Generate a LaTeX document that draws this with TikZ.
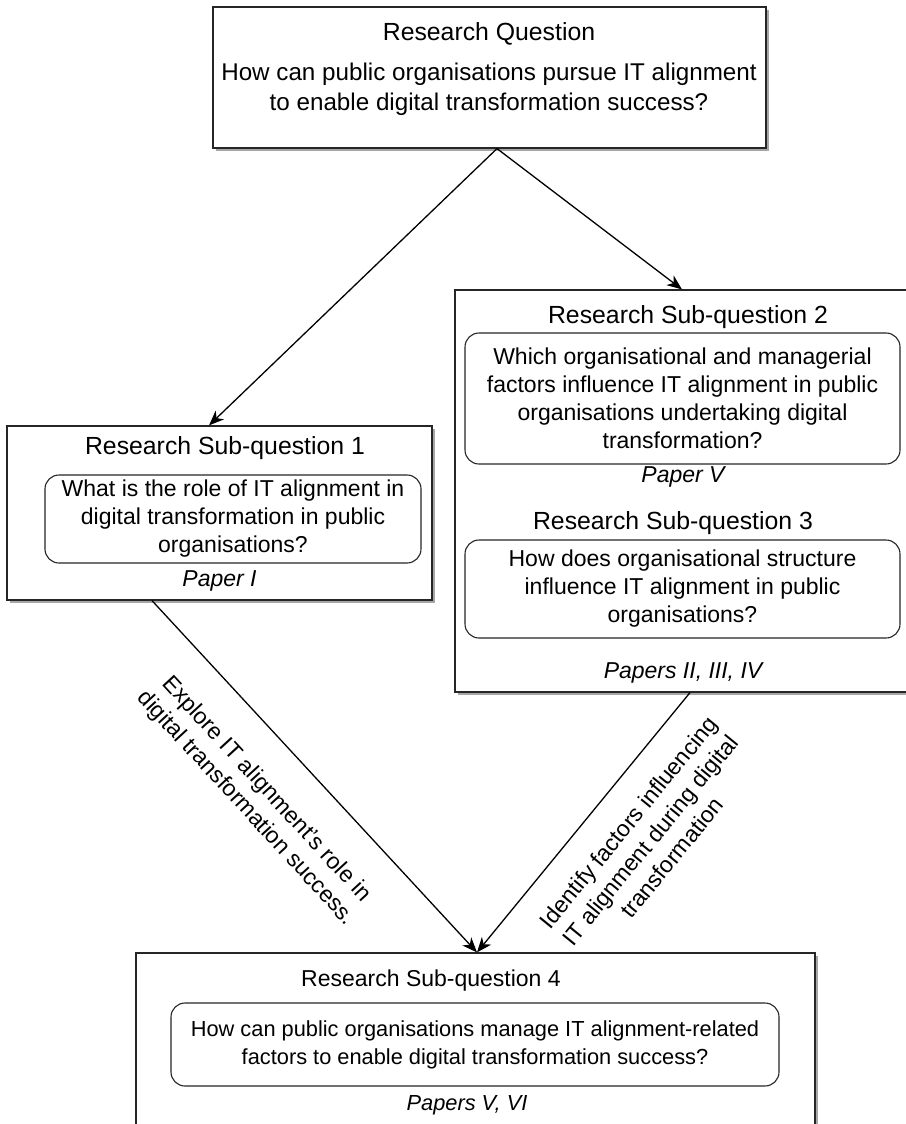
\documentclass[tikz,border=0pt]{standalone}
\usepackage{fontspec}
\setmainfont{Liberation Sans}
\usetikzlibrary{arrows.meta,shadows,calc}
\begin{document}
\begin{tikzpicture}[x=1pt,y=-1pt,
  outerbox/.style={draw=black!85, line width=1.2pt, fill=white, inner sep=0pt,
    drop shadow={shadow xshift=3pt,shadow yshift=-3pt,opacity=0.35,fill=black}},
  qbox/.style={draw=black!85, line width=1.1pt, rounded corners=14pt, inner sep=0pt},
  body/.style={font=\fontsize{23}{28}\selectfont, align=center, inner sep=0pt},
  bigbody/.style={font=\fontsize{24.2}{29.5}\selectfont, align=center, inner sep=0pt},
  smallbody/.style={font=\fontsize{21.8}{28}\selectfont, align=center, inner sep=0pt},
  head/.style={font=\fontsize{24.8}{30}\selectfont, inner sep=0pt},
  smallhead/.style={font=\fontsize{23}{28}\selectfont, inner sep=0pt},
  paper/.style={font=\fontsize{23}{28}\selectfont\itshape, inner sep=0pt},
  smallpaper/.style={font=\fontsize{21.8}{28}\selectfont\itshape, inner sep=0pt},
  link/.style={line width=1.3pt, -{Stealth[length=15pt,width=12pt,inset=4.5pt]}},
  lbl/.style={font=\fontsize{23}{28}\selectfont, align=center, inner sep=0pt}]

\useasboundingbox (0,0) rectangle (905,1124);

% main research question
\node[outerbox, minimum width=553pt, minimum height=141pt] (rq) at (489.5,77.5) {};
\node[head] (rqt) at (489,34) {Research Question};
\node[bigbody] (rqb) at (489,89) {How can public organisations pursue IT alignment\\to enable digital transformation success?};

% sub-question 1
\node[outerbox, minimum width=425pt, minimum height=174pt] (sq1) at (219.5,513) {};
\node[head] (sq1t) at (225,448) {Research Sub-question 1};
\node[qbox, minimum width=376pt, minimum height=88pt] (sq1q) at (233,519) {};
\node[body] at (sq1q) {What is the role of IT alignment in\\digital transformation in public\\organisations?};
\node[paper] (sq1p) at (219.5,581) {Paper I};

% sub-questions 2 and 3
\node[outerbox, minimum width=454pt, minimum height=402pt] (sq23) at (682,491) {};
\node[head] (sq2t) at (688,317) {Research Sub-question 2};
\node[qbox, minimum width=435pt, minimum height=131pt] (sq2q) at (682.5,398.5) {};
\node[body] at (sq2q) {Which organisational and managerial\\factors influence IT alignment in public\\organisations undertaking digital\\transformation?};
\node[paper] (sq2p) at (683,477) {Paper V};
\node[head] (sq3t) at (673,523) {Research Sub-question 3};
\node[qbox, minimum width=435pt, minimum height=98pt] (sq3q) at (682.5,589) {};
\node[body] at (sq3q) {How does organisational structure\\influence IT alignment in public\\organisations?};
\node[paper] (sq3p) at (683,673) {Papers II, III, IV};

% sub-question 4
\node[outerbox, minimum width=679pt, minimum height=190pt] (sq4) at (475.5,1048) {};
\node[smallhead] (sq4t) at (431,981) {Research Sub-question 4};
\node[qbox, minimum width=608pt, minimum height=83pt] (sq4q) at (475,1044.5) {};
\node[smallbody] at (sq4q) {How can public organisations manage IT alignment-related\\factors to enable digital transformation success?};
\node[smallpaper] (sq4p) at (467,1105) {Papers V, VI};

% connectors
\coordinate (rqout) at ($(rq.south)+(7.5,0)$);
\coordinate (sq4in) at ($(sq4.north)+(1.5,0)$);
\draw[link] (rqout) -- ($(sq1.north)+(-10.5,0)$);
\draw[link] (rqout) -- (sq23.north);
\draw[link] ($(sq1.south)+(-67.5,0)$) -- (sq4in);
\draw[link] ($(sq23.south)+(8,0)$) -- (sq4in);

% connector labels
\node[lbl, rotate=-47.4] (l1) at (256,799) {Explore IT alignment's role in\\digital transformation success.};
\node[lbl, rotate=50.8] (l2) at (650,840) {Identify factors influencing\\IT alignment during digital\\transformation};
\end{tikzpicture}
\end{document}
